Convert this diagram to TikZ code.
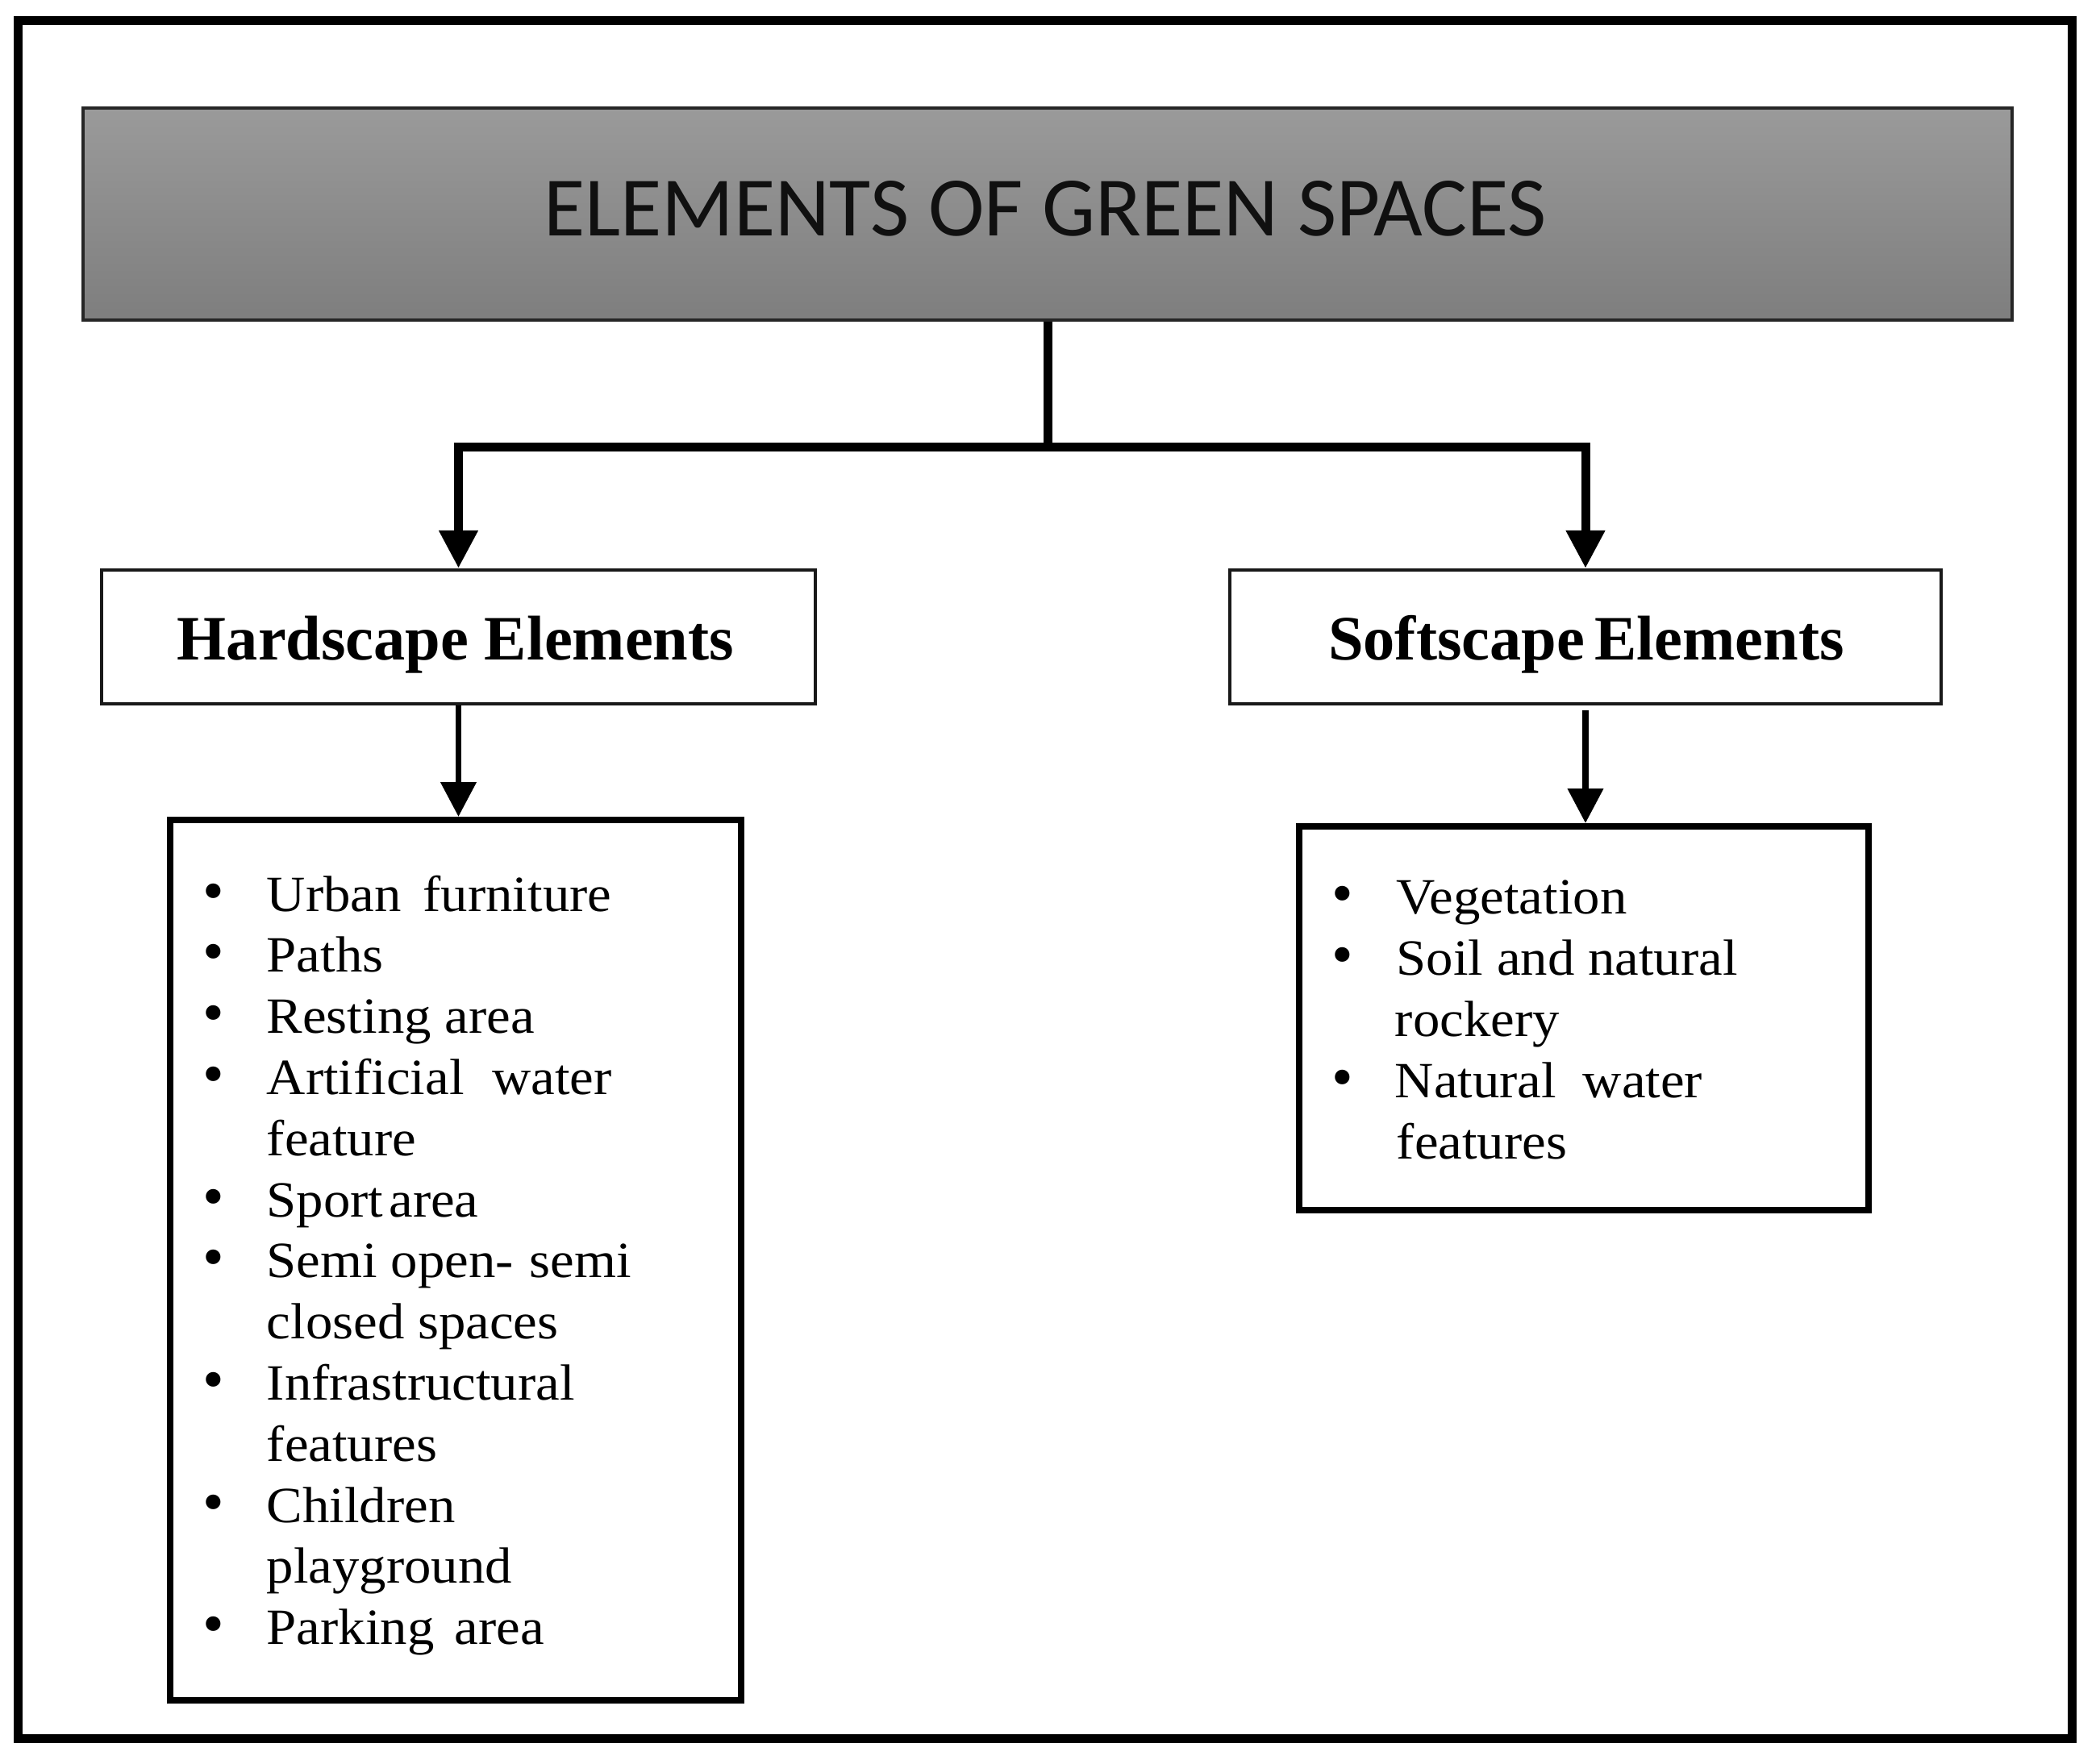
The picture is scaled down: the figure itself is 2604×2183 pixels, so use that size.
\documentclass[tikz,border=0pt]{standalone}
\usepackage{fontspec}
\usetikzlibrary{arrows.meta}
\newfontfamily\titlefont{Carlito}
\newfontfamily\headfont{Liberation Serif}
\newfontfamily\listfont[FakeStretch=1.06]{Liberation Serif}
\newfontfamily\dotfont{Liberation Serif}
\definecolor{gtop}{HTML}{9A9A9A}
\definecolor{gbot}{HTML}{7E7E7E}
\definecolor{titleink}{HTML}{101010}
\begin{document}
\begin{tikzpicture}[x=0.25pt,y=-0.25pt,
  frame/.style={draw=black,line width=2.75pt},
  titlebox/.style={draw=black!85,line width=1pt,top color=gtop,bottom color=gbot,
    minimum width=598pt,minimum height=65.75pt,inner sep=0pt},
  titletext/.style={anchor=base,inner sep=0pt,text=titleink,
    font=\titlefont\fontsize{26.2pt}{26.2pt}\selectfont},
  headbox/.style={draw=black!90,line width=1.1pt,fill=white,
    minimum height=41.5pt,inner sep=0pt},
  headtext/.style={anchor=base,inner sep=0pt,
    font=\headfont\bfseries\fontsize{19.6pt}{19.6pt}\selectfont},
  listbox/.style={draw=black,line width=2pt,fill=white,inner sep=0pt},
  item/.style={anchor=base west,inner sep=0pt,
    font=\listfont\fontsize{15.75pt}{15.75pt}\selectfont},
  dot/.style={anchor=base,inner sep=0pt,
    font=\dotfont\fontsize{19pt}{19pt}\selectfont},
  conn/.style={draw=black,line width=2.75pt},
  thinconn/.style={draw=black,line width=1.9pt},
  bigtip/.style={-{Triangle[width=11.5pt,length=11.75pt]}},
  smalltip/.style={-{Triangle[width=10.75pt,length=10.75pt]}}
]
\useasboundingbox (0,0) rectangle (2604,2183);
\fill[white] (0,0) rectangle (2604,2183);
\draw[frame] (22,26) rectangle (2569,2156);

% title
\node[titlebox] (title) at (1299,265.5) {};
\node[titletext] (titlelbl) at (1296,293) {ELEMENTS OF GREEN SPACES};

% second level
\node[headbox,minimum width=221.25pt] (hard) at (568.5,790) {};
\node[headtext] (hardlbl) at (565,818) {Hardscape Elements};
\node[headbox,minimum width=220.5pt] (soft) at (1966,790) {};
\node[headtext] (softlbl) at (1967,818) {Softscape\hspace{0.16em}Elements};

% list boxes
\node[listbox,minimum width=177pt,minimum height=273pt] (hlist) at (565,1563) {};
\node[listbox,minimum width=176.5pt,minimum height=119pt] (slist) at (1964,1263) {};

% connectors
\coordinate (bar) at (1297,554);
\draw[conn] (title.south) -- (title.south |- bar) coordinate (j);
\draw[conn,bigtip] (j) -| (hard.north);
\draw[conn,bigtip] (j) -| (soft.north);
\draw[thinconn,smalltip] (hard.south) -- (hard.south |- hlist.north);
\draw[thinconn,smalltip] ([yshift=-1.5pt]soft.south) -- (soft.south |- slist.north);

% hardscape list
\foreach \yy [count=\k] in {1130,1205.8,1281.6,1357.4,1509,1584.8,1736.4,1888,2039.6}
  \node[dot] (hdot\k) at (265,\yy) {•};
\node[item] (h1) at (330,1130) {Urban\hspace{0.43em}furniture};
\node[item] (h2) at (330,1205.8) {Paths};
\node[item] (h3) at (330,1281.6) {Resting area};
\node[item] (h4) at (330,1357.4) {Artificial\hspace{0.55em}water};
\node[item] (h5) at (330,1433.2) {feature};
\node[item] (h6) at (330,1509) {Sport\hspace{0.11em}area};
\node[item] (h7) at (330,1584.8) {Semi open-\hspace{0.32em}semi};
\node[item] (h8) at (330,1660.6) {closed spaces};
\node[item] (h9) at (330,1736.4) {Infrastructural};
\node[item] (h10) at (330,1812.2) {features};
\node[item] (h11) at (330,1888) {Children};
\node[item] (h12) at (330,1963.8) {playground};
\node[item] (h13) at (330,2039.6) {Parking\hspace{0.4em}area};

% softscape list
\foreach \yy [count=\k] in {1133,1209,1361}
  \node[dot] (sdot\k) at (1665,\yy) {•};
\node[item] (s1) at (1731,1133) {Vegetation};
\node[item] (s2) at (1731,1209) {Soil and natural};
\node[item] (s3) at (1729,1285) {rockery};
\node[item] (s4) at (1729,1361) {Natural\hspace{0.52em}water};
\node[item] (s5) at (1731,1437) {features};
\end{tikzpicture}
\end{document}
